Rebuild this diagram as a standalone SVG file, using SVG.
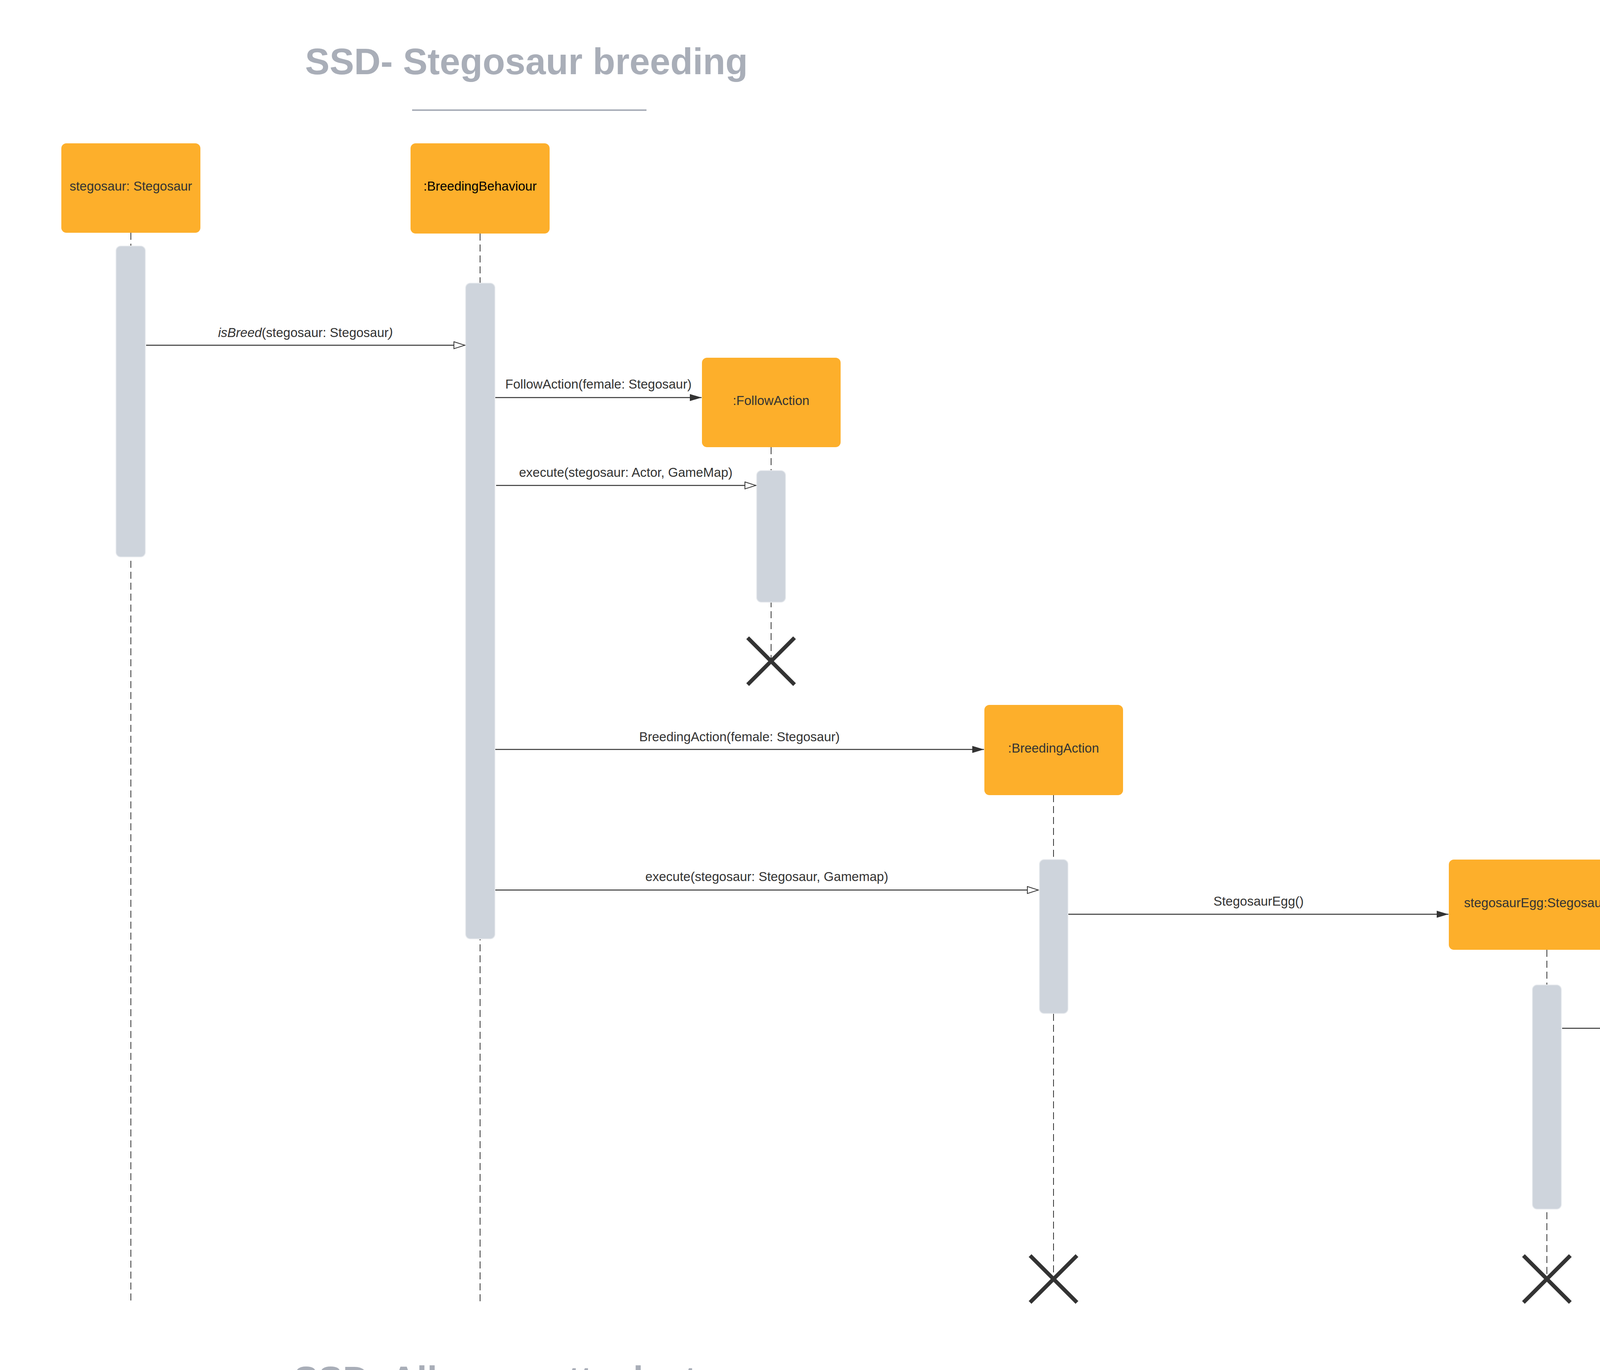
<svg xmlns="http://www.w3.org/2000/svg" width="5550" height="3508" viewBox="0 0 5550 3508">
<style>
.title{font-family:"Liberation Sans",Arial,sans-serif;font-weight:bold;font-size:94px;fill:#a9aeb8}
.box{fill:#fdaf2b}
.nl{font-family:"Liberation Sans",Arial,sans-serif;font-size:33px;fill:#333333;text-anchor:middle}
.ml{font-family:"Liberation Sans",Arial,sans-serif;font-size:33px;fill:#333333;text-anchor:middle}
.life{stroke:#333333;stroke-width:2;stroke-dasharray:18 10;fill:none}
.bar{fill:#ced4dc;stroke:#e6e9ed;stroke-width:2}
.msg{stroke:#333333;stroke-width:2.5;fill:none}
.sync{marker-end:url(#filled)}
.async{marker-end:url(#open)}
.x{stroke:#333333;stroke-width:10;fill:none}
</style>
<defs>
<marker id="filled" markerUnits="userSpaceOnUse" markerWidth="32" markerHeight="20" refX="30" refY="9" orient="auto">
<path d="M0,0 L30,9 L0,18 Z" fill="#333333"/>
</marker>
<marker id="open" markerUnits="userSpaceOnUse" markerWidth="32" markerHeight="22" refX="29" refY="10" orient="auto">
<path d="M1,1 L29,10 L1,19 Z" fill="#ffffff" stroke="#333333" stroke-width="2"/>
</marker>
</defs>
<rect x="0" y="0" width="5550" height="3508" fill="#ffffff"/>

<g id="title">
<text class="title" x="781" y="190">SSD- Stegosaur breeding</text>
<line x1="1055" y1="282" x2="1655" y2="282" stroke="#a9aeb8" stroke-width="4"/>
</g>
<g id="next-title">
<text class="title" x="752" y="3565">SSD- Allosaur attack stegosaur</text>
</g>

<g id="lifelines">
<line class="life" x1="335" y1="596" x2="335" y2="3340"/>
<line class="life" x1="1229" y1="598" x2="1229" y2="3340"/>
<line class="life" x1="1974" y1="1145" x2="1974" y2="1690"/>
<line class="life" x1="2697" y1="2036" x2="2697" y2="3272"/>
<line class="life" x1="3960" y1="2432" x2="3960" y2="3272"/>
<line class="life" x1="4576" y1="2426" x2="4576" y2="3272"/>
<line class="life" x1="5261" y1="2774" x2="5261" y2="3272"/>
</g>

<g id="node-stegosaur">
<rect class="box" x="157" y="367" width="356" height="229" rx="13"/>
<text class="nl" x="335" y="488">stegosaur: Stegosaur</text>
<rect class="bar" x="297" y="630" width="75" height="796" rx="12"/>
</g>

<g id="node-breedingbehaviour">
<rect class="box" x="1051" y="367" width="356" height="231" rx="13"/>
<text class="nl" x="1229" y="488" style="fill:#000000">:BreedingBehaviour</text>
<rect class="bar" x="1192" y="725" width="75" height="1679" rx="12"/>
</g>

<g id="node-followaction">
<rect class="box" x="1797" y="916" width="355" height="229" rx="13"/>
<text class="nl" x="1974" y="1037">:FollowAction</text>
<rect class="bar" x="1937" y="1205" width="74" height="337" rx="12"/>
<g class="x"><line x1="1914" y1="1633" x2="2034" y2="1753"/><line x1="2034" y1="1633" x2="1914" y2="1753"/></g>
</g>

<g id="node-breedingaction">
<rect class="box" x="2520" y="1805" width="355" height="231" rx="13"/>
<text class="nl" x="2697" y="1927">:BreedingAction</text>
<rect class="bar" x="2661" y="2201" width="73" height="394" rx="12"/>
<g class="x"><line x1="2637" y1="3215" x2="2757" y2="3335"/><line x1="2757" y1="3215" x2="2637" y2="3335"/></g>
</g>

<g id="node-stegosauregg">
<rect class="box" x="3709" y="2201" width="500" height="231" rx="13"/>
<text class="nl" x="3959" y="2323">stegosaurEgg:StegosaurEgg</text>
<rect class="bar" x="3923" y="2522" width="74" height="574" rx="12"/>
<g class="x"><line x1="3900" y1="3215" x2="4020" y2="3335"/><line x1="4020" y1="3215" x2="3900" y2="3335"/></g>
</g>

<g id="node-hatchingbehaviour">
<rect class="box" x="4398" y="2195" width="356" height="231" rx="13"/>
<text class="nl" x="4576" y="2317">:HatchingBehaviour</text>
<rect class="bar" x="4540" y="2547" width="73" height="549" rx="12"/>
<g class="x"><line x1="4516" y1="3215" x2="4636" y2="3335"/><line x1="4636" y1="3215" x2="4516" y2="3335"/></g>
</g>

<g id="node-hacthingaction">
<rect class="box" x="5073" y="2544" width="357" height="230" rx="13"/>
<text class="nl" x="5251" y="2665">:HacthingAction</text>
<rect class="bar" x="5224" y="2897" width="73" height="199" rx="12"/>
<g class="x"><line x1="5201" y1="3215" x2="5321" y2="3335"/><line x1="5321" y1="3215" x2="5201" y2="3335"/></g>
</g>

<g id="connectors">
<line class="msg async" x1="374" y1="884" x2="1190" y2="884"/>
<text class="ml" x="782" y="863"><tspan font-style="italic">isBreed</tspan>(stegosaur: Stegosaur<tspan font-style="italic">)</tspan></text>

<line class="msg sync" x1="1268" y1="1018" x2="1796" y2="1018"/>
<text class="ml" x="1532" y="995">FollowAction(female: Stegosaur)</text>

<line class="msg async" x1="1270" y1="1243" x2="1935" y2="1243"/>
<text class="ml" x="1602" y="1221">execute(stegosaur: Actor, GameMap)</text>

<line class="msg sync" x1="1268" y1="1919" x2="2519" y2="1919"/>
<text class="ml" x="1893" y="1898">BreedingAction(female: Stegosaur)</text>

<line class="msg async" x1="1268" y1="2279" x2="2658" y2="2279"/>
<text class="ml" x="1963" y="2256">execute(stegosaur: Stegosaur, Gamemap)</text>

<line class="msg sync" x1="2735" y1="2341" x2="3708" y2="2341"/>
<text class="ml" x="3222" y="2319">StegosaurEgg()</text>

<line class="msg async" x1="3999" y1="2633" x2="4538" y2="2633"/>
<text class="ml" x="4268" y="2612">isHatch()</text>

<line class="msg sync" x1="4615" y1="2660" x2="5072" y2="2660" style="stroke-width:1.3"/>
<text class="ml" x="4843" y="2640">HacthingAction()</text>

<line class="msg sync" x1="4615" y1="2959" x2="5222" y2="2959"/>
<text class="ml" x="4918" y="2940">Hatch():Stegosaur</text>
</g>
</svg>
